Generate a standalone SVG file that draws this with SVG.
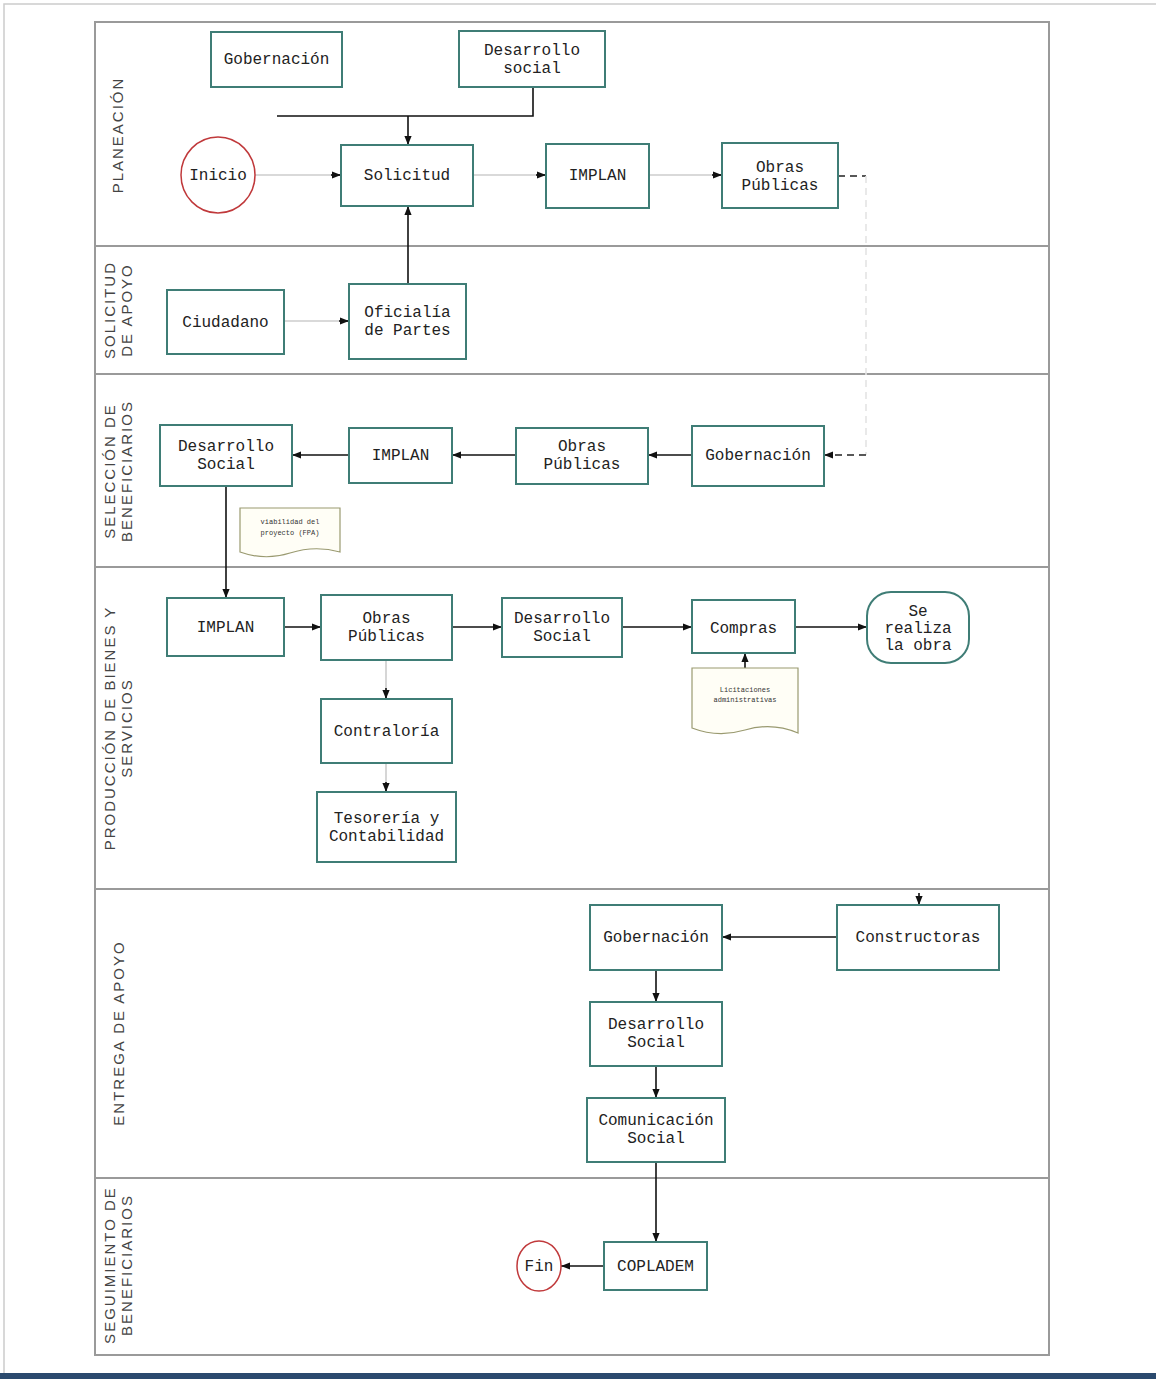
<svg xmlns="http://www.w3.org/2000/svg" width="1156" height="1379" viewBox="0 0 1156 1379">
<style>
.bx{fill:#fff;stroke:#3f7d76;stroke-width:2}
.t{font-family:"Liberation Mono","DejaVu Sans Mono",monospace;font-size:16px;fill:#222;text-anchor:middle}
.ts{font-family:"Liberation Mono","DejaVu Sans Mono",monospace;font-size:7px;fill:#333;text-anchor:middle}
.lane{font-family:"Liberation Sans","DejaVu Sans",sans-serif;font-size:15px;fill:#444;text-anchor:middle;letter-spacing:2px}
.c{fill:none;stroke:#111;stroke-width:1.6}
.cl{fill:none;stroke:#ccc;stroke-width:1.6}
.d{fill:none;stroke:#222;stroke-width:1.6;stroke-dasharray:7 5}
.dl{fill:none;stroke:#e4e4e4;stroke-width:1.6;stroke-dasharray:7 5}
.circ{fill:#fff;stroke:#c0393b;stroke-width:1.5}
</style>
<defs>
<marker id="ah" viewBox="0 0 10 10" refX="10" refY="5" markerWidth="9" markerHeight="9" orient="auto" markerUnits="userSpaceOnUse"><path d="M0,1 L10,5 L0,9 z" fill="#111"/></marker>
</defs>
<rect x="0" y="0" width="1156" height="1379" fill="#fff"/>
<path d="M4,1379 V4 H1156" fill="none" stroke="#ccc" stroke-width="1.5"/>
<rect x="0" y="1373" width="1156" height="6" fill="#2b4a6e"/>
<g id="lanes">
<rect x="95" y="22" width="954" height="1333" fill="none" stroke="#9a9a9a" stroke-width="2"/>
<line x1="95" y1="246" x2="1049" y2="246" stroke="#9a9a9a" stroke-width="2"/>
<line x1="95" y1="374" x2="1049" y2="374" stroke="#9a9a9a" stroke-width="2"/>
<line x1="95" y1="567" x2="1049" y2="567" stroke="#9a9a9a" stroke-width="2"/>
<line x1="95" y1="889" x2="1049" y2="889" stroke="#9a9a9a" stroke-width="2"/>
<line x1="95" y1="1178" x2="1049" y2="1178" stroke="#9a9a9a" stroke-width="2"/>
<text class="lane" transform="translate(123,135) rotate(-90)">PLANEACIÓN</text>
<text class="lane" transform="translate(115,310) rotate(-90)">SOLICITUD</text>
<text class="lane" transform="translate(132,310) rotate(-90)">DE APOYO</text>
<text class="lane" transform="translate(115,471) rotate(-90)">SELECCIÓN DE</text>
<text class="lane" transform="translate(132,471) rotate(-90)">BENEFICIARIOS</text>
<text class="lane" transform="translate(115,728) rotate(-90)">PRODUCCIÓN DE BIENES Y</text>
<text class="lane" transform="translate(132,728) rotate(-90)">SERVICIOS</text>
<text class="lane" transform="translate(124,1033) rotate(-90)">ENTREGA DE APOYO</text>
<text class="lane" transform="translate(115,1265) rotate(-90)">SEGUIMIENTO DE</text>
<text class="lane" transform="translate(132,1265) rotate(-90)">BENEFICIARIOS</text>
</g>
<g id="connectors">
<path class="c" d="M533,87 V116 H277"/>
<path class="c" d="M408,116 V145" marker-end="url(#ah)"/>
<path class="cl" d="M255,175 H341"/>
<path class="c" d="M331,175 H341" marker-end="url(#ah)"/>
<path class="cl" d="M473,175 H546"/>
<path class="c" d="M536,175 H546" marker-end="url(#ah)"/>
<path class="cl" d="M649,175 H722"/>
<path class="c" d="M712,175 H722" marker-end="url(#ah)"/>
<path class="d" d="M838,176 H866"/>
<path class="dl" d="M866,176 V455"/>
<path class="d" d="M866,455 H824" marker-end="url(#ah)"/>
<path class="cl" d="M284,321 H349"/>
<path class="c" d="M339,321 H349" marker-end="url(#ah)"/>
<path class="c" d="M408,284 V206" marker-end="url(#ah)"/>
<path class="c" d="M692,455 H648" marker-end="url(#ah)"/>
<path class="c" d="M516,455 H452" marker-end="url(#ah)"/>
<path class="c" d="M349,455 H292" marker-end="url(#ah)"/>
<path class="c" d="M226,486 V598" marker-end="url(#ah)"/>
<path class="c" d="M284,627 H321" marker-end="url(#ah)"/>
<path class="c" d="M452,627 H502" marker-end="url(#ah)"/>
<path class="c" d="M622,627 H692" marker-end="url(#ah)"/>
<path class="c" d="M795,627 H867" marker-end="url(#ah)"/>
<path class="cl" d="M386,660 V699"/>
<path class="c" d="M386,688 V699" marker-end="url(#ah)"/>
<path class="cl" d="M386,763 V792"/>
<path class="c" d="M386,782 V792" marker-end="url(#ah)"/>
<path class="c" d="M745,668 V653" marker-end="url(#ah)"/>
<path class="c" d="M919,893 V905" marker-end="url(#ah)"/>
<path class="c" d="M837,937 H722" marker-end="url(#ah)"/>
<path class="c" d="M656,970 V1002" marker-end="url(#ah)"/>
<path class="c" d="M656,1066 V1098" marker-end="url(#ah)"/>
<path class="c" d="M656,1162 V1242" marker-end="url(#ah)"/>
<path class="c" d="M604,1266 H561" marker-end="url(#ah)"/>
</g>
<g id="n-gob1"><rect class="bx" x="211" y="32" width="131" height="55"/><text class="t" x="276.5" y="64">Gobernación</text></g>
<g id="n-ds1"><rect class="bx" x="459" y="31" width="146" height="56"/><text class="t" x="532" y="55">Desarrollo</text><text class="t" x="532" y="73">social</text></g>
<g id="n-inicio"><ellipse class="circ" cx="218" cy="175" rx="37" ry="38"/><text class="t" x="218" y="180">Inicio</text></g>
<g id="n-solicitud"><rect class="bx" x="341" y="145" width="132" height="61"/><text class="t" x="407" y="180">Solicitud</text></g>
<g id="n-implan1"><rect class="bx" x="546" y="144" width="103" height="64"/><text class="t" x="597.5" y="180">IMPLAN</text></g>
<g id="n-op1"><rect class="bx" x="722" y="143" width="116" height="65"/><text class="t" x="780" y="172">Obras</text><text class="t" x="780" y="190">Públicas</text></g>
<g id="n-ciud"><rect class="bx" x="167" y="290" width="117" height="64"/><text class="t" x="225.5" y="327">Ciudadano</text></g>
<g id="n-ofic"><rect class="bx" x="349" y="284" width="117" height="75"/><text class="t" x="407.5" y="317">Oficialía</text><text class="t" x="407.5" y="335">de Partes</text></g>
<g id="n-ds2"><rect class="bx" x="160" y="425" width="132" height="61"/><text class="t" x="226" y="451">Desarrollo</text><text class="t" x="226" y="469">Social</text></g>
<g id="n-implan2"><rect class="bx" x="349" y="428" width="103" height="55"/><text class="t" x="400.5" y="460">IMPLAN</text></g>
<g id="n-op2"><rect class="bx" x="516" y="428" width="132" height="56"/><text class="t" x="582" y="451">Obras</text><text class="t" x="582" y="469">Públicas</text></g>
<g id="n-gob2"><rect class="bx" x="692" y="426" width="132" height="60"/><text class="t" x="758" y="460">Gobernación</text></g>
<g id="n-doc1"><path d="M240,508 H340 V552 Q315,545 290,553 Q265,561 240,552 Z" fill="#fffef6" stroke="#9a9a70" stroke-width="1.2"/><text class="ts" x="290" y="524">viabilidad del</text><text class="ts" x="290" y="535">proyecto (FPA)</text></g>
<g id="n-implan3"><rect class="bx" x="167" y="598" width="117" height="58"/><text class="t" x="225.5" y="632">IMPLAN</text></g>
<g id="n-op3"><rect class="bx" x="321" y="595" width="131" height="65"/><text class="t" x="386.5" y="623">Obras</text><text class="t" x="386.5" y="641">Públicas</text></g>
<g id="n-ds3"><rect class="bx" x="502" y="598" width="120" height="59"/><text class="t" x="562" y="623">Desarrollo</text><text class="t" x="562" y="641">Social</text></g>
<g id="n-compras"><rect class="bx" x="692" y="600" width="103" height="53"/><text class="t" x="743.5" y="633">Compras</text></g>
<g id="n-realiza"><rect class="bx" x="867" y="592" width="102" height="71" rx="24"/><text class="t" x="918" y="616">Se</text><text class="t" x="918" y="633">realiza</text><text class="t" x="918" y="650">la obra</text></g>
<g id="n-contra"><rect class="bx" x="321" y="699" width="131" height="64"/><text class="t" x="386.5" y="736">Contraloría</text></g>
<g id="n-teso"><rect class="bx" x="317" y="792" width="139" height="70"/><text class="t" x="386.5" y="823">Tesorería y</text><text class="t" x="386.5" y="841">Contabilidad</text></g>
<g id="n-doc2"><path d="M692,668 H798 V733 Q772,722 745,730 Q718,738 692,728 Z" fill="#fffef6" stroke="#9a9a70" stroke-width="1.2"/><text class="ts" x="745" y="692">Licitaciones</text><text class="ts" x="745" y="702">administrativas</text></g>
<g id="n-gob3"><rect class="bx" x="590" y="905" width="132" height="65"/><text class="t" x="656" y="942">Gobernación</text></g>
<g id="n-constr"><rect class="bx" x="837" y="905" width="162" height="65"/><text class="t" x="918" y="942">Constructoras</text></g>
<g id="n-ds4"><rect class="bx" x="590" y="1002" width="132" height="64"/><text class="t" x="656" y="1029">Desarrollo</text><text class="t" x="656" y="1047">Social</text></g>
<g id="n-comsoc"><rect class="bx" x="587" y="1098" width="138" height="64"/><text class="t" x="656" y="1125">Comunicación</text><text class="t" x="656" y="1143">Social</text></g>
<g id="n-coplad"><rect class="bx" x="604" y="1242" width="103" height="48"/><text class="t" x="655.5" y="1271">COPLADEM</text></g>
<g id="n-fin"><ellipse class="circ" cx="539" cy="1266" rx="22" ry="25"/><text class="t" x="539" y="1271">Fin</text></g>
</svg>
